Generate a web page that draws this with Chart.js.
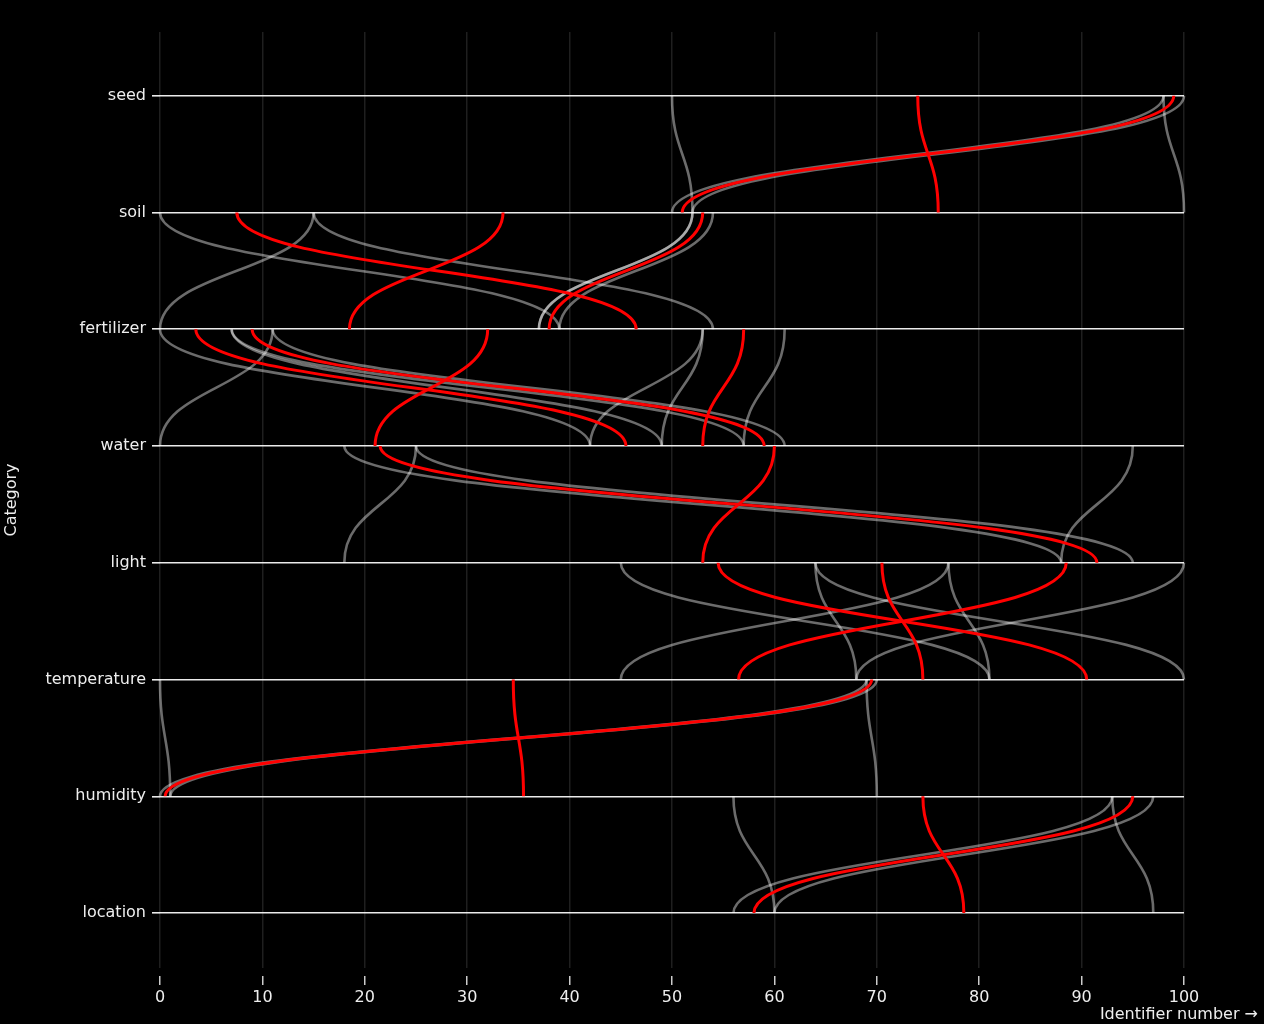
<!DOCTYPE html>
<html>
<head>
<meta charset="utf-8">
<script src="https://cdn.jsdelivr.net/npm/chart.js@4/dist/chart.umd.min.js"></script>
<style>
  html, body { margin: 0; padding: 0; background: #000; }
  #wrap { width: 1264px; height: 1024px; }
</style>
</head>
<body>
<div id="wrap"><canvas id="c" width="1264" height="1024"></canvas></div>
<script>
// Categories (rows, top to bottom)
const categories = ['seed', 'soil', 'fertilizer', 'water', 'light', 'temperature', 'humidity', 'location'];
const xTicks = [0, 10, 20, 30, 40, 50, 60, 70, 80, 90, 100];

// Range boundary links: [identifier in upper row, identifier in lower row]
const seedSoilBounds = [[98, 50], [100, 52], [50, 52], [98, 100]];
const soilFertilizerBounds = [[15, 0], [52, 37], [52, 37], [54, 39], [0, 39], [15, 54]];
const fertilizerWaterBounds = [[53, 49], [61, 57], [11, 0], [53, 42], [0, 42], [7, 49], [7, 57], [11, 61]];
const waterLightBounds = [[18, 88], [25, 95], [25, 18], [95, 88]];
const lightTemperatureBounds = [[77, 45], [100, 68], [45, 81], [64, 100], [64, 68], [77, 81]];
const temperatureHumidityBounds = [[69, 0], [70, 1], [0, 1], [69, 70]];
const humidityLocationBounds = [[56, 60], [93, 97], [93, 56], [97, 60]];

// Range midpoint links (red)
const seedSoilMid = [[99, 51], [74, 76]];
const soilFertilizerMid = [[7.5, 46.5], [33.5, 18.5], [53, 38]];
const fertilizerWaterMid = [[3.5, 45.5], [9, 59], [32, 21], [57, 53]];
const waterLightMid = [[21.5, 91.5], [60, 53]];
const lightTemperatureMid = [[54.5, 90.5], [70.5, 74.5], [88.5, 56.5]];
const temperatureHumidityMid = [[34.5, 35.5], [69.5, 0.5]];
const humidityLocationMid = [[74.5, 78.5], [95, 58]];

const boundsByStep = [seedSoilBounds, soilFertilizerBounds, fertilizerWaterBounds, waterLightBounds,
  lightTemperatureBounds, temperatureHumidityBounds, humidityLocationBounds];
const midsByStep = [seedSoilMid, soilFertilizerMid, fertilizerWaterMid, waterLightMid,
  lightTemperatureMid, temperatureHumidityMid, humidityLocationMid];

const GRAY = 'rgba(255,255,255,0.42)';
const RED = '#ff0000';

function linkDataset(pair, row, color, width) {
  return {
    data: [{ x: pair[0], y: row }, { x: pair[1], y: row + 1 }],
    showLine: false,
    pointRadius: 0,
    pointHoverRadius: 0,
    borderColor: color,
    borderWidth: width
  };
}

const datasets = [];
boundsByStep.forEach((list, row) => list.forEach(p => datasets.push(linkDataset(p, row, GRAY, 2.6))));
midsByStep.forEach((list, row) => list.forEach(p => datasets.push(linkDataset(p, row, RED, 3))));

// Draws each link as a vertical bump curve between its two points (positions from the chart's scales)
const bumpLinks = {
  id: 'bumpLinks',
  afterDatasetsDraw(chart) {
    const ctx = chart.ctx;
    chart.data.datasets.forEach((ds, i) => {
      const meta = chart.getDatasetMeta(i);
      const a = meta.data[0], b = meta.data[1];
      const ym = (a.y + b.y) / 2;
      ctx.save();
      ctx.strokeStyle = ds.borderColor;
      ctx.lineWidth = ds.borderWidth;
      ctx.lineCap = 'butt';
      ctx.beginPath();
      ctx.moveTo(a.x, a.y);
      ctx.bezierCurveTo(a.x, ym, b.x, ym, b.x, b.y);
      ctx.stroke();
      ctx.restore();
    });
  }
};

const xTitle = {
  id: 'xTitle',
  afterDraw(chart) {
    const ctx = chart.ctx;
    ctx.save();
    ctx.fillStyle = '#eeeeee';
    ctx.font = '16px "DejaVu Sans"';
    ctx.textAlign = 'right';
    ctx.textBaseline = 'alphabetic';
    ctx.fillText('Identifier number \u2192', chart.width - 6, chart.height - 5);
    ctx.restore();
  }
};

Chart.defaults.font.family = '"DejaVu Sans", sans-serif';
Chart.defaults.font.size = 16;
Chart.defaults.color = '#eeeeee';

new Chart(document.getElementById('c'), {
  type: 'line',
  data: { datasets },
  options: {
    responsive: false,
    animation: false,
    events: [],
    layout: { padding: { top: 32, right: 80, left: 0, bottom: 0 } },
    plugins: { legend: { display: false }, tooltip: { enabled: false } },
    scales: {
      x: {
        type: 'linear',
        min: 0,
        max: 100,
        afterBuildTicks: s => { s.ticks = xTicks.map(v => ({ value: v })); },
        afterFit: s => { s.height = 56; },
        border: { display: false },
        grid: {
          color: 'rgba(255,255,255,0.12)',
          lineWidth: 1.5,
          tickColor: '#cccccc',
          tickWidth: 1.5,
          tickLength: 17,
          tickBorderDash: [0, 8, 9, 40]
        },
        ticks: { padding: 3, color: '#eeeeee', maxRotation: 0 }
      },
      y: {
        type: 'linear',
        reverse: true,
        min: -0.545,
        max: 7.47,
        afterBuildTicks: s => { s.ticks = categories.map((c, i) => ({ value: i })); },
        afterFit: s => { s.width = 160; },
        border: { display: false },
        grid: {
          color: 'rgba(255,255,255,0.92)',
          lineWidth: 1.6,
          tickLength: 8
        },
        ticks: {
          padding: 6,
          color: '#eeeeee',
          callback: v => categories[v]
        },
        title: {
          display: true,
          text: 'Category',
          color: '#eeeeee',
          font: { size: 16 },
          padding: { top: 2, bottom: 0 }
        }
      }
    }
  },
  plugins: [bumpLinks, xTitle]
});
</script>
</body>
</html>
